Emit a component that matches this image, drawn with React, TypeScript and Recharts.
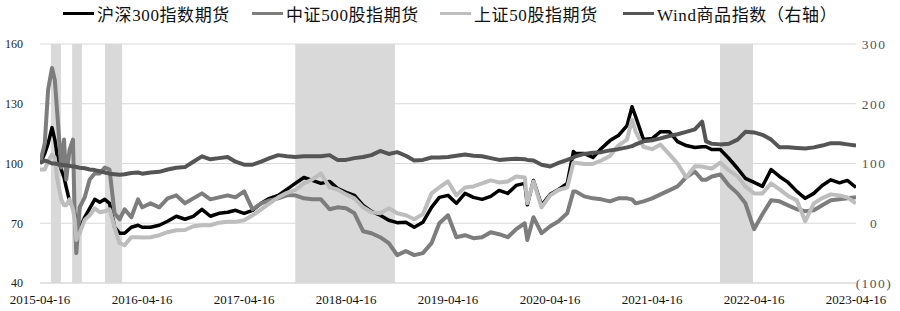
import React from 'react';
import { LineChart, Line, XAxis, YAxis, CartesianGrid, ReferenceArea, Legend } from 'recharts';

const dates = [
  '2015-04-16','2015-05-03','2015-05-15','2015-05-29','2015-06-08','2015-06-17','2015-07-01','2015-07-11','2015-07-19','2015-07-31',
  '2015-08-12','2015-08-18','2015-08-24','2015-09-05','2015-09-23','2015-10-11','2015-10-29','2015-11-16','2015-12-04','2015-12-21',
  '2016-01-08','2016-01-26','2016-02-13','2016-03-08','2016-04-01','2016-04-16','2016-05-16','2016-06-16','2016-07-16','2016-08-16',
  '2016-09-16','2016-10-16','2016-11-16','2016-12-16','2017-01-16','2017-02-16','2017-03-16','2017-04-16','2017-05-16','2017-06-16',
  '2017-07-16','2017-08-16','2017-09-16','2017-10-16','2017-11-16','2017-12-16','2018-01-16','2018-02-16','2018-03-16','2018-04-16',
  '2018-05-16','2018-06-16','2018-07-16','2018-08-16','2018-09-16','2018-10-16','2018-11-16','2018-12-16','2019-01-16','2019-02-16',
  '2019-03-16','2019-04-16','2019-05-16','2019-06-16','2019-07-16','2019-08-16','2019-09-16','2019-10-16','2019-11-16','2019-12-16',
  '2020-01-16','2020-01-25','2020-02-16','2020-03-16','2020-04-16','2020-05-16','2020-06-16','2020-07-08','2020-07-16','2020-08-16',
  '2020-09-16','2020-10-16','2020-11-16','2020-12-16','2021-01-16','2021-02-03','2021-02-16','2021-03-16','2021-04-16','2021-05-16',
  '2021-06-16','2021-07-16','2021-08-16','2021-09-16','2021-10-12','2021-10-26','2021-11-16','2021-12-16','2022-01-16','2022-02-16',
  '2022-03-16','2022-04-16','2022-05-16','2022-06-16','2022-07-16','2022-08-16','2022-09-16','2022-10-16','2022-11-16','2022-12-16',
  '2023-01-16','2023-02-16','2023-03-16','2023-04-16',
];

const hs300 = [
  100,105,110,118,112,103.5,97,93,88,81,
  78,75,69,67,73,77.5,82,80.5,82,80,
  68,65,65,68,69,68,68,69,71,73.5,
  72,73.5,77,73.5,75,75.5,76.5,75,76.5,80,
  82.5,84,87,90,93,91.5,90,91,87.5,85.5,
  84,79,76,74,71.5,70.3,70.5,68,70.5,78,
  83,84,80,85,83,82,83.5,86.5,85,89,
  90,79.3,91.5,79,84.5,87,90,106,105,105,
  103,107.5,111.5,114,119,128.5,123.5,112,112.5,116,
  116,111,109,108,108.4,108.4,107,107,102.5,97.5,
  92.5,90.5,88.5,97,93.5,90.5,86,82.5,85,89,
  91.8,90.3,91.5,88,
];

const zz500 = [
  100,110,137,148,142,125,98,112,92,107,
  112,75,55,78,83,92,95,95,98,97,
  75,72,77,73,82,78,80,78,82.5,84,
  80,82.5,85,82,83,84,83,86,77,80,
  81.5,82.5,84,84,82.5,82,82,77,78,77.5,
  75,66,65,63,60,54,56,54,55,60,
  70,74,63,64,62.5,63,65.5,64.5,63,67,
  70,61.6,73,65,68.5,71,75,86,86,83.5,
  82.5,82,81,82.5,82.5,82,80,81,82.5,84.5,
  86.5,88.5,93,96,91.8,91.8,93.5,94.5,89,85,
  80,67,74.5,81.5,81,79,77,76,76.5,79,
  81.5,82,82.5,83,
];

const sz50 = [
  97,97,101,104.5,103,92,82,79,79,82,
  77,72,61.6,65,71.7,74,77.5,75.5,76,77,
  68,60,59,63,63,62.8,63,64,65.5,66.5,
  66.6,68.5,69,69,70.3,70.7,70.7,71.5,74,77,
  80,83,85.3,86.7,90,92,95,88,87,84.5,
  82.5,78,75.5,75,77.5,75,74,72,74.5,85,
  88,91,84,88,88.5,90,91.5,90.5,91,93.5,
  93,80,91,78,84,86.7,88,100.4,100.4,99.8,
  99.8,101.5,103.8,109,112,122,116,108.4,107.2,109.5,
  104.7,100,93,98.6,98.5,98,97.5,100.4,96.5,93.5,
  88.5,85,85,90,87,83.7,81.5,71,80,82.6,
  84.5,84,83,80,
];

const wind = [
  101,105,103,100,100,99,98,97,97,96,
  95,95,94,93,92,90,89,87,85,83,
  82,81,82,84,85,83,85,86,90,93,
  94,103,112,107,109,111,103,98,98,103,
  109,114,112,111,112,112,112,114,106,106,
  109,111,114,121,116,119,113,105,106,110,
  110,111,113,115,113,112,109,106,107,108,
  107,106,105,98,95,101,106,110,112,116,
  118,119,122,124,127,129,132,137,139,142,
  146,149,153,157,170,137,133,132,133,140,
  153,152,148,140,127,127,126,125,127,130,
  134,134,132,130,
];

const tickDates = ['2015-04-16','2016-04-16','2017-04-16','2018-04-16','2019-04-16','2020-04-16','2021-04-16','2022-04-16','2023-04-16'];
const leftTicks = [40, 70, 100, 130, 160];
const rightTicks = [-100, 0, 100, 200, 300];
const bandStarts = ['2015-05-25','2015-08-09','2015-12-05','2017-10-16','2021-12-15'];
const bandEnds = ['2015-06-30','2015-09-13','2016-02-04','2018-10-08','2022-04-12'];
const seriesNames = ['沪深300指数期货', '中证500股指期货', '上证50股指期货', 'Wind商品指数（右轴）'];

const ts = (s: string) => Date.UTC(+s.slice(0, 4), +s.slice(5, 7) - 1, +s.slice(8, 10));
const fmt = (t: number) => {
  const d = new Date(t);
  const p = (n: number) => (n < 10 ? '0' + n : '' + n);
  return `${d.getUTCFullYear()}-${p(d.getUTCMonth() + 1)}-${p(d.getUTCDate())}`;
};

const rows = dates.map((d, i) => ({ t: ts(d), hs300: hs300[i], zz500: zz500[i], sz50: sz50[i], wind: wind[i] }));

const FONT = "'Liberation Serif', 'Noto Sans CJK SC', serif";
const colors = ['#000000', '#7d7d7d', '#bdbdbd', '#555555'];
const widths = [3.5, 4, 4, 4];
const keys = ['hs300', 'zz500', 'sz50', 'wind'];
const legendLeft = [63, 252, 440, 623];

const RightTick = (props: any) => {
  const { x, y, payload } = props;
  const v = payload.value;
  const label = v < 0 ? `(${-v})` : String(v);
  return (
    <text x={x + 10} y={y} dy="0.355em" textAnchor="middle" fontSize={13.5} letterSpacing={1.5} fill="#555" fontFamily={FONT}>
      {label}
    </text>
  );
};

const renderLegend = () => (
  <div style={{ position: 'relative', width: 900, height: 44, fontFamily: FONT, fontSize: 17, color: '#111' }}>
    {seriesNames.map((name, i) => (
      <div key={name} style={{ position: 'absolute', left: legendLeft[i], top: 4, height: 24, display: 'flex', alignItems: 'flex-start', whiteSpace: 'nowrap' }}>
        <span style={{ display: 'inline-block', width: 31, height: 3, marginTop: 8, background: colors[i] }} />
        <span style={{ marginLeft: 3, lineHeight: '24px', letterSpacing: 0.6 }}>{name}</span>
      </div>
    ))}
  </div>
);

export default function App() {
  return (
    <div style={{ position: 'absolute', left: 0, top: 0, width: 900, height: 311, background: '#fff' }}>
      <LineChart width={900} height={311} data={rows} margin={{ top: 0, right: 0, bottom: 0, left: 0 }}>
        <Legend verticalAlign="top" align="left" content={renderLegend} wrapperStyle={{ left: 0, top: 0, width: 900, height: 44 }} />
        <CartesianGrid yAxisId="left" vertical={false} stroke="#d9d9d9" strokeWidth={1} />
        <XAxis
          dataKey="t"
          type="number"
          scale="linear"
          domain={[ts(tickDates[0]), ts(tickDates[tickDates.length - 1])]}
          ticks={tickDates.map(ts)}
          interval={0}
          tickFormatter={fmt}
          height={28}
          axisLine={{ stroke: '#d9d9d9' }}
          tickLine={false}
          tickMargin={6}
          tick={{ fontSize: 13, fill: '#111', fontFamily: FONT }}
          allowDataOverflow
        />
        <YAxis
          yAxisId="left"
          orientation="left"
          width={40}
          domain={[40, 160]}
          ticks={leftTicks}
          interval={0}
          axisLine={false}
          tickLine={false}
          tickMargin={11}
          tick={{ fontSize: 12, fill: '#222', fontFamily: FONT }}
          allowDataOverflow
        />
        <YAxis
          yAxisId="right"
          orientation="right"
          width={44}
          domain={[-100, 300]}
          ticks={rightTicks}
          interval={0}
          axisLine={false}
          tickLine={false}
          tick={<RightTick />}
          allowDataOverflow
        />
        {bandStarts.map((s, i) => (
          <ReferenceArea key={s} yAxisId="left" x1={ts(s)} x2={ts(bandEnds[i])} y1={40} y2={160} fill="#d9d9d9" fillOpacity={1} stroke="none" />
        ))}
        {keys.map((k, i) => (
          <Line
            key={k}
            yAxisId={k === 'wind' ? 'right' : 'left'}
            dataKey={k}
            name={seriesNames[i]}
            type="linear"
            stroke={colors[i]}
            strokeWidth={widths[i]}
            strokeLinejoin="round"
            dot={false}
            activeDot={false}
            isAnimationActive={false}
          />
        ))}
      </LineChart>
    </div>
  );
}
